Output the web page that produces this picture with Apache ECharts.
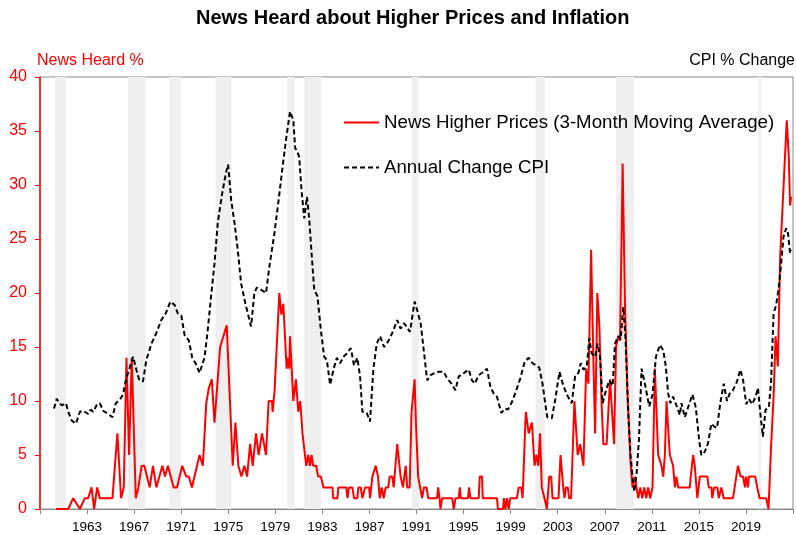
<!DOCTYPE html>
<html>
<head>
<meta charset="utf-8">
<script src="https://cdn.jsdelivr.net/npm/echarts@6/dist/echarts.min.js"></script>
<style>html,body{margin:0;padding:0;background:#fff}#main{width:796px;height:535px}</style>
</head>
<body>
<div id="main"></div>
<script>
// axis runs from 1959 to 2023, ticks every 4 years
var startYear = 1959;
var endYear = 2023;
var tickStep = 4;

// News heard about higher prices (3-month moving average), %
var newsYears = [1960.36,1961.40,1961.82,1962.39,1962.81,1963.09,1963.38,1963.60,1963.86,1964.08,
  1965.16,1965.58,1965.89,1966.12,1966.35,1966.57,1966.80,1967.14,1967.36,1967.64,
  1967.87,1968.32,1968.60,1968.89,1969.40,1969.62,1969.87,1970.36,1970.64,1971.09,
  1971.43,1971.65,1971.91,1972.56,1972.84,1973.13,1973.35,1973.60,1973.83,1974.31,
  1974.87,1975.38,1975.61,1975.86,1976.12,1976.37,1976.60,1976.86,1977.08,1977.36,
  1977.58,1977.87,1978.21,1978.43,1978.72,1978.77,1978.94,1979.06,1979.34,1979.51,
  1979.68,1979.96,1980.08,1980.19,1980.25,1980.53,1980.75,1980.95,1981.12,1981.31,
  1981.52,1981.63,1981.80,1981.94,1982.08,1982.22,1982.47,1982.64,1982.87,1983.09,
  1983.86,1983.92,1984.28,1984.36,1985.04,1985.13,1985.27,1985.55,1985.69,1985.97,
  1986.06,1986.26,1986.40,1986.63,1986.97,1987.05,1987.25,1987.53,1987.73,1987.87,
  1988.04,1988.21,1988.38,1988.60,1988.72,1988.94,1989.06,1989.36,1989.65,1989.85,
  1990.08,1990.21,1990.42,1990.58,1990.84,1990.95,1991.14,1991.48,1991.63,1991.86,
  1991.99,1992.75,1992.84,1992.96,1993.04,1993.18,1994.03,1994.17,1994.31,1994.59,
  1994.68,1994.76,1995.38,1995.47,1995.58,1996.29,1996.37,1996.57,1996.63,1997.84,
  1997.92,1998.35,1998.43,1998.55,1998.69,1998.83,1998.97,1999.53,1999.68,1999.91,
  2000.02,2000.25,2000.30,2000.53,2000.81,2001.03,2001.20,2001.35,2001.50,2001.65,
  2001.88,2002.08,2002.28,2002.45,2002.56,2003.07,2003.24,2003.47,2003.58,2003.69,
  2003.86,2003.97,2004.14,2004.42,2004.70,2004.91,2005.04,2005.19,2005.42,2005.61,
  2005.84,2006.03,2006.18,2006.37,2006.54,2006.74,2006.88,2007.16,2007.45,2007.79,
  2007.96,2008.15,2008.30,2008.52,2008.72,2008.92,2009.19,2009.36,2009.57,2009.70,
  2009.85,2010.02,2010.19,2010.36,2010.53,2010.69,2010.86,2011.06,2011.26,2011.54,
  2011.82,2011.97,2012.11,2012.25,2012.53,2012.81,2012.96,2013.09,2013.24,2014.23,
  2014.31,2014.51,2014.65,2014.87,2015.08,2015.72,2015.84,2016.06,2016.14,2016.29,
  2016.57,2016.69,2016.91,2017.11,2017.90,2018.04,2018.32,2018.55,2018.75,2018.92,
  2019.00,2019.17,2019.25,2019.79,2019.96,2020.16,2020.72,2020.92,2021.14,2021.35,
  2021.52,2021.71,2021.91,2022.14,2022.47,2022.64,2022.75,2022.84];
var newsValues = [0,0,1,0,1,1,2,0,2,1,
  1,7,1,2,14,5,14,1,2,4,
  4,2,4,2,4,3,4,2,2,4,
  3,3,2,5,4,9.8,11.2,12,8,15,
  17,4,8,4,3,4,3,6,4,7,
  5,7,5,10,10,9,11,11,20,18,
  19,13,14,13,16,10,12,9,10,7,
  5,4,5,4,5,4,4,3,3,2,
  2,1,1,2,2,1,2,2,1,1,
  2,2,1,2,2,1,3,4,3,1,
  2,1,2,2,3,3,2,6,3,2,
  4,2,2,9,12,8,3,1,2,2,
  1,1,2,1,0,1,1,0,1,1,
  2,1,1,2,1,1,3,3,1,1,
  0,0,1,0,1,0,1,1,2,2,
  1,8,9,7,8,4,5,4,7,2,
  1,0,3,3,1,1,5,2,1,2,
  2,1,1,10,5,6,6,4,13,11.6,
  24,14,7,20,17,9.5,6,6,12,6,
  15,16,15.6,32,19,11,4.3,2,3,2,
  1,2,1,2,1,2,1,2,13,5,
  4,3,5,10,5,4,2,3,2,2,
  3,5,4,1,3,3,2,2,1,2,
  2,1,2,1,1,2,4,3,3,2,
  3,2,3,3,2,1,1,0,5.9,10.4,
  16,13.2,23.4,28.6,36,32.6,28.1,28.9];

// annual change CPI, read against the left scale
var cpiYears = [1960.19,1960.42,1960.64,1960.86,1961.20,1961.40,1961.69,1962.05,1962.39,1962.67,
  1963.09,1963.30,1963.52,1963.81,1964.08,1964.36,1964.79,1965.16,1965.44,1965.78,
  1966.06,1966.29,1966.57,1966.91,1967.19,1967.42,1967.75,1968.04,1968.47,1968.89,
  1969.31,1969.68,1970.08,1970.44,1970.72,1971.01,1971.29,1971.65,1971.94,1972.22,
  1972.56,1972.98,1973.26,1973.55,1973.83,1974.11,1974.48,1974.82,1974.99,1975.25,
  1975.53,1975.81,1976.09,1976.46,1976.94,1977.22,1977.42,1977.79,1978.21,1978.49,
  1978.92,1979.28,1979.62,1979.91,1980.25,1980.53,1980.69,1980.84,1981.03,1981.23,
  1981.46,1981.69,1981.88,1982.08,1982.31,1982.58,1982.87,1983.15,1983.38,1983.66,
  1983.94,1984.23,1984.51,1984.79,1985.08,1985.42,1985.69,1985.97,1986.20,1986.40,
  1986.77,1987.05,1987.33,1987.62,1987.90,1988.24,1988.58,1988.94,1989.36,1989.65,
  1989.93,1990.16,1990.44,1990.64,1990.84,1991.06,1991.35,1991.48,1991.71,1991.91,
  1992.19,1992.56,1992.90,1993.32,1993.60,1993.97,1994.31,1994.59,1994.87,1995.16,
  1995.44,1995.72,1995.95,1996.29,1996.71,1996.99,1997.28,1997.56,1997.84,1998.21,
  1998.49,1998.77,1999.11,1999.45,1999.82,2000.19,2000.53,2000.86,2001.14,2001.43,
  2001.71,2001.94,2002.11,2002.50,2002.79,2003.15,2003.43,2003.77,2004.19,2004.48,
  2004.76,2004.96,2005.19,2005.47,2005.69,2005.89,2006.18,2006.40,2006.60,2006.82,
  2007.11,2007.39,2007.67,2007.87,2008.15,2008.35,2008.58,2008.77,2009.00,2009.19,
  2009.36,2009.51,2009.70,2009.91,2010.13,2010.41,2010.78,2011.06,2011.35,2011.69,
  2011.97,2012.19,2012.39,2012.58,2012.81,2013.09,2013.38,2013.52,2013.81,2014.08,
  2014.45,2014.74,2015.02,2015.21,2015.50,2015.78,2016.06,2016.35,2016.54,2016.82,
  2017.11,2017.39,2017.62,2017.90,2018.24,2018.52,2018.75,2019.03,2019.25,2019.53,
  2019.82,2020.02,2020.21,2020.44,2020.67,2020.95,2021.14,2021.35,2021.57,2021.80,
  2021.99,2022.19,2022.42,2022.58,2022.75,2022.84];
var cpiValues = [9.3,10.2,9.8,9.6,9.8,9.0,8.2,7.9,9.0,9.1,
  8.8,9.2,9.0,9.6,9.8,9.1,8.8,8.5,9.8,10.1,
  10.6,11.9,12.9,14.1,12.9,12.0,11.8,13.8,15.3,16.3,
  17.5,18.1,19.2,18.9,18.1,17.9,16.1,15.6,14.0,13.5,
  12.6,14.0,16.6,19.8,22.7,26.5,29.2,31.2,31.9,28.6,
  26.5,24.0,20.9,19.0,16.9,20.0,20.5,20.3,20.0,22.4,
  25.5,28.6,31.7,34.2,36.8,36.0,33.4,33.2,32.6,29.5,
  26.9,28.9,26.9,23.7,20.3,19.7,16.6,14.1,13.8,11.5,
  12.9,14.0,13.5,14.1,14.4,14.9,13.3,14.0,12.3,9.0,
  8.9,8.1,12.9,15.3,16.0,15.0,15.5,16.3,17.5,16.7,
  17.2,16.9,16.4,17.8,19.2,18.4,17.2,16.0,13.8,11.9,
  12.4,12.6,12.7,12.7,12.1,11.6,11.0,12.3,12.4,12.7,
  12.9,11.9,11.6,12.4,12.7,13.0,11.3,10.7,10.4,8.9,
  9.3,9.2,9.9,10.9,12.1,13.6,14.0,13.5,13.3,13.1,
  11.6,9.8,8.5,8.4,10.1,12.7,11.6,10.6,9.8,12.3,
  12.6,13.5,12.9,13.2,15.8,14.4,14.1,15.3,14.1,9.8,
  11.0,11.9,11.4,15.3,16.0,15.7,18.7,15.7,8.9,5.0,
  3.0,1.6,3.2,6.5,13.0,11.6,9.5,10.6,14.1,15.2,
  14.7,13.2,10.7,9.8,10.4,9.6,8.7,9.8,8.5,9.4,
  10.6,9.4,6.4,5.0,5.3,6.1,7.9,7.6,7.5,9.8,
  11.6,10.0,10.7,11.0,11.8,12.9,12.0,9.7,10.2,9.7,
  10.4,11.2,9.0,6.7,9.2,9.4,11.9,18.1,18.9,20.6,
  22.7,25.2,26.0,25.5,23.7,24.0];

// shaded recession periods [start, end]
var recessions = [[1960.27,1961.20],[1966.46,1967.98],[1970.02,1970.95],[1973.92,1975.27],
  [1980.02,1980.61],[1981.46,1982.90],[1990.61,1991.20],[2001.12,2001.90],
  [2007.96,2009.49],[2020.08,2020.30]];

var font = "'Liberation Sans', Arial, sans-serif";

function toPoints(years, values) {
    return years.map(function (y, i) { return [y - startYear, values[i]]; });
}

var myChart = echarts.init(document.getElementById('main'));

var option = {
    animation: false,
    backgroundColor: '#fff',
    textStyle: { fontFamily: font },
    title: [
        { text: 'News Heard about Higher Prices and Inflation', left: 196, top: 8, padding: 0,
          textStyle: { fontSize: 20, fontWeight: 'bold', color: '#000', fontFamily: font } },
        { text: 'News Heard %', left: 37, top: 53, padding: 0,
          textStyle: { fontSize: 16, fontWeight: 'normal', color: '#ff0000', fontFamily: font } },
        { text: 'CPI % Change', right: 1, top: 53, padding: 0,
          textStyle: { fontSize: 16, fontWeight: 'normal', color: '#000', fontFamily: font } }
    ],
    legend: {
        orient: 'vertical',
        left: 343,
        top: 113,
        padding: 0,
        itemWidth: 35,
        itemHeight: 14,
        itemGap: 26,
        itemStyle: { opacity: 0 },
        textStyle: { fontSize: 18.7, color: '#000', fontFamily: font },
        data: ['News Higher Prices (3-Month Moving Average)', 'Annual Change CPI']
    },
    grid: {
        left: 40, right: 1, top: 77, bottom: 26,
        show: true, borderColor: '#8c8c8c', borderWidth: 1
    },
    xAxis: {
        type: 'value',
        min: 0,
        max: endYear - startYear,
        interval: tickStep,
        axisLine: { lineStyle: { color: '#888' } },
        axisTick: { show: true, length: 5, lineStyle: { color: '#888' } },
        axisLabel: {
            color: '#000', fontSize: 13.5, margin: 11, fontFamily: font,
            formatter: function (v) {
                return (v > 0 && v < endYear - startYear) ? String(startYear + v) : '';
            }
        },
        splitLine: { show: false }
    },
    yAxis: {
        type: 'value',
        min: 0,
        max: 40,
        interval: 5,
        axisLine: { show: true, lineStyle: { color: '#ff0000', width: 1.5 } },
        axisTick: { show: true, length: 5, lineStyle: { color: '#ff0000' } },
        axisLabel: { color: '#ff0000', fontSize: 16, margin: 13, fontFamily: font },
        splitLine: { show: false }
    },
    series: [
        {
            name: 'bands',
            type: 'line',
            data: [],
            z: 1,
            markArea: {
                silent: true,
                itemStyle: { color: '#efefef' },
                data: recessions.map(function (r) {
                    return [{ xAxis: r[0] - startYear }, { xAxis: r[1] - startYear }];
                })
            }
        },
        {
            name: 'News Higher Prices (3-Month Moving Average)',
            type: 'line',
            data: toPoints(newsYears, newsValues),
            symbol: 'none',
            z: 3,
            itemStyle: { color: '#ff0000' },
            lineStyle: { color: '#ff0000', width: 2 }
        },
        {
            name: 'Annual Change CPI',
            type: 'line',
            data: toPoints(cpiYears, cpiValues),
            symbol: 'none',
            z: 4,
            itemStyle: { color: '#000' },
            lineStyle: { color: '#000', width: 2, type: [5, 3] }
        }
    ]
};
myChart.setOption(option);
</script>
</body>
</html>
